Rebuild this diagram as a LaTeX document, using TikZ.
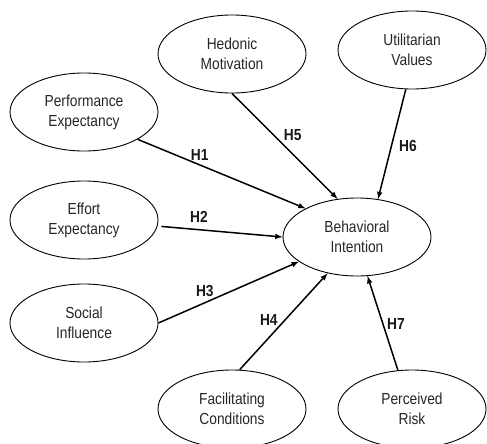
\documentclass[tikz,border=0pt]{standalone}
\usepackage{fontspec}
\setmainfont{Liberation Sans}[FakeStretch=0.86]
\usetikzlibrary{shapes.geometric}
\begin{document}
\begin{tikzpicture}[x=1pt,y=-1pt]
% research model: seven hypotheses pointing to the intention construct
\tikzstyle{construct} = [ellipse, draw=black, line width=0.9pt, minimum width=148pt, minimum height=78pt, inner sep=0pt, align=center, text=black!85, font=\fontsize{16}{20}\selectfont]
\tikzstyle{hyp} = [-latex, line width=1.5pt]
\tikzstyle{hlabel} = [font=\bfseries\fontsize{16}{18}\selectfont, inner sep=2pt, text=black!90]
\clip (0,0) rectangle (487,444);
\node (BI)[construct] at (357,237) {Behavioral\\Intention};
\node (PE)[construct] at (84,112) {Performance\\Expectancy};
\node (EE)[construct] at (84,220) {Effort\\Expectancy};
\node (SI)[construct] at (84,323) {Social\\Influence};
\node (HM)[construct] at (232,54) {Hedonic\\Motivation};
\node (UV)[construct] at (412,50) {Utilitarian\\Values};
\node (FC)[construct] at (232,409) {Facilitating\\Conditions};
\node (PR)[construct] at (412,409) {Perceived\\Risk};
\draw [hyp] (PE.333) -- (BI.151) node[hlabel, pos=0.37, above=1.5pt] (h1) {H1};
\draw [hyp] ([xshift=4pt]EE.355) -- (BI.180) node[hlabel, pos=0.31, above=4.5pt] (h2) {H2};
\draw [hyp] (SI.east) -- (BI.203) node[hlabel, pos=0.33, above=3pt] (h3) {H3};
\draw [hyp] (FC.79) -- (BI.231) node[hlabel, pos=0.52, left=5pt] (h4) {H4};
\draw [hyp] (HM.south) -- (BI.117) node[hlabel, pos=0.39, right=8pt] (h5) {H5};
\draw [hyp] (UV.261) -- (BI.61) node[hlabel, pos=0.52, right=5pt] (h6) {H6};
\draw [hyp] (PR.110) -- (BI.285) node[hlabel, pos=0.49, right=1.5pt] (h7) {H7};
\end{tikzpicture}
\end{document}
